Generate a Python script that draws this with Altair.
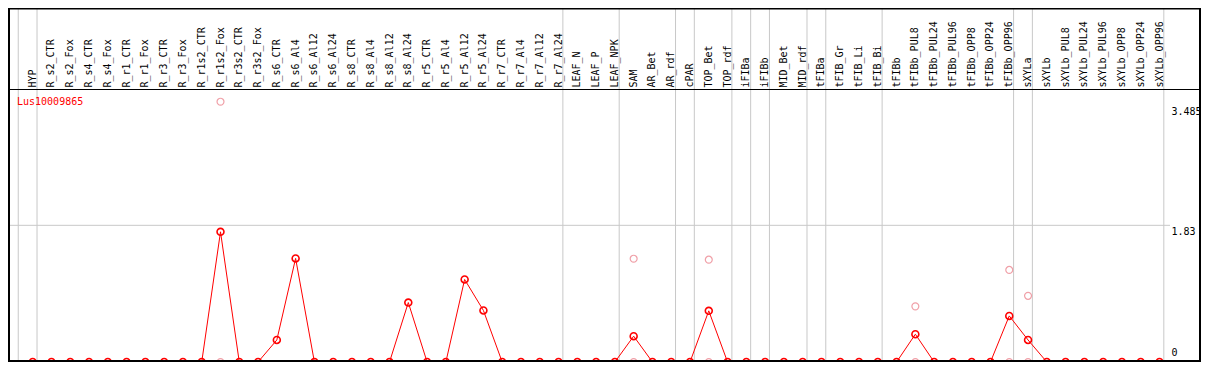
import altair as alt
import pandas as pd

# ---- data ----
categories = [
    "HYP", "R_s2_CTR", "R_s2_Fox", "R_s4_CTR", "R_s4_Fox", "R_r1_CTR", "R_r1_Fox",
    "R_r3_CTR", "R_r3_Fox", "R_r1s2_CTR", "R_r1s2_Fox", "R_r3s2_CTR", "R_r3s2_Fox",
    "R_s6_CTR", "R_s6_Al4", "R_s6_Al12", "R_s6_Al24", "R_s8_CTR", "R_s8_Al4",
    "R_s8_Al12", "R_s8_Al24", "R_r5_CTR", "R_r5_Al4", "R_r5_Al12", "R_r5_Al24",
    "R_r7_CTR", "R_r7_Al4", "R_r7_Al12", "R_r7_Al24", "LEAF_N", "LEAF_P", "LEAF_NPK",
    "SAM", "AR_Bet", "AR_rdf", "cPAR", "TOP_Bet", "TOP_rdf", "iFIBa", "iFIBb",
    "MID_Bet", "MID_rdf", "tFIBa", "tFIB_Gr", "tFIB_Li", "tFIB_Bi", "tFIBb",
    "tFIBb_PUL8", "tFIBb_PUL24", "tFIBb_PUL96", "tFIBb_OPP8", "tFIBb_OPP24",
    "tFIBb_OPP96", "sXYLa", "sXYLb", "sXYLb_PUL8", "sXYLb_PUL24", "sXYLb_PUL96",
    "sXYLb_OPP8", "sXYLb_OPP24", "sXYLb_OPP96",
]

mean_values = [
    0, 0, 0, 0, 0, 0, 0, 0, 0, 0, 1.743, 0, 0,
    0.295, 1.387, 0, 0, 0, 0, 0, 0.796, 0, 0, 1.105, 0.690,
    0, 0, 0, 0, 0, 0, 0,
    0.346, 0, 0, 0, 0.685, 0, 0, 0,
    0, 0, 0, 0, 0, 0, 0,
    0.372, 0, 0, 0, 0, 0.617, 0.295, 0, 0, 0, 0, 0, 0, 0,
]

rep_categories = ["R_r1s2_Fox", "R_r1s2_Fox", "SAM", "SAM", "TOP_Bet", "TOP_Bet",
                  "tFIBb_PUL8", "tFIBb_PUL8", "tFIBb_OPP96", "tFIBb_OPP96",
                  "sXYLa", "sXYLa"]
rep_values = [3.485, 0, 1.383, 0, 1.370, 0, 0.745, 0, 1.233, 0, 0.886, 0]

# groups are separated after these categories
separator_after = ["HYP", "R_r7_Al24", "LEAF_NPK", "AR_rdf", "cPAR", "TOP_rdf",
                   "iFIBa", "iFIBb", "MID_rdf", "tFIBa", "tFIB_Bi", "tFIBb_OPP96",
                   "sXYLa", "sXYLb_OPP96"]

tick_values = [3.485, 1.83, 0]
tick_labels = ["3.485", "1.83", "0"]
gene_name = "Lus10009865"

# ---- layout ----
W, H = 1193, 354
FONT = "DejaVu Sans Mono"
RED = "#ff0000"
PINK = "#f0a0a8"
GRID = "#c8c8c8"

idx = {c: k for k, c in enumerate(categories)}

df_main = pd.DataFrame({"cat": categories, "i": list(range(len(categories))), "v": mean_values})
df_rep = pd.DataFrame({"cat": rep_categories, "i": [idx[c] for c in rep_categories], "v": rep_values})
sep_pos = [-1 + 0.23] + [idx[c] + 0.23 for c in separator_after]
df_sep = pd.DataFrame({"b": sep_pos})

xs = alt.Scale(domain=[0, 60], range=[24.7, 1151.5], nice=False, zero=False)
ys = alt.Scale(domain=[0, 3.485], range=[354, 93.7], nice=False, zero=False)

X = lambda f: alt.X(f, scale=xs, axis=None)
Y = lambda f: alt.Y(f, scale=ys, axis=None)

one = pd.DataFrame({"v": [0]})

vgrid = alt.Chart(df_sep).mark_rule(color=GRID, strokeWidth=1).encode(
    x=X("b:Q"), y=alt.value(0), y2=alt.value(H))

hgrid = alt.Chart(pd.DataFrame({"v": [tick_values[1]]})).mark_rule(
    color=GRID, strokeWidth=1).encode(y=Y("v:Q"), x=alt.value(0), x2=alt.value(1162))

header_line = alt.Chart(one).mark_rule(
    color="black", strokeWidth=1).encode(y=alt.value(81.5), x=alt.value(0), x2=alt.value(W))

border = alt.Chart(one).mark_rect(
    fillOpacity=0, stroke="black", strokeWidth=2).encode(
    x=alt.value(1), x2=alt.value(W - 1), y=alt.value(0.5), y2=alt.value(H - 1))

labels = alt.Chart(df_main).mark_text(
    angle=270, align="left", baseline="middle", font=FONT, fontSize=10, color="black"
).encode(x=X("i:Q"), y=alt.value(79.5), text="cat:N")

line = alt.Chart(df_main).mark_line(color=RED, strokeWidth=1).encode(
    x=X("i:Q"), y=Y("v:Q"), order="i:Q")

reps = alt.Chart(df_rep).mark_point(
    shape="circle", filled=False, color=PINK, size=48, strokeWidth=1.2, opacity=1
).encode(x=X("i:Q"), y=Y("v:Q"))

pts = alt.Chart(df_main).mark_point(
    shape="circle", filled=False, color=RED, size=48, strokeWidth=1.6, opacity=1
).encode(x=X("i:Q"), y=Y("v:Q"))

name = alt.Chart(pd.DataFrame({"t": [gene_name]})).mark_text(
    align="left", baseline="middle", font=FONT, fontSize=10, color=RED
).encode(x=alt.value(9), y=alt.value(93.5), text="t:N")

tick_layers = []
for val, lab, base, dy in zip(tick_values, tick_labels, ["top", "top", "bottom"], [5, 1.5, -4]):
    tick_layers.append(
        alt.Chart(pd.DataFrame({"v": [val], "t": [lab]})).mark_text(
            align="left", baseline=base, dy=dy, font=FONT, fontSize=10, color="black"
        ).encode(x=alt.value(1163.5), y=Y("v:Q"), text="t:N")
    )

chart = alt.layer(vgrid, hgrid, header_line, labels, line, reps, pts, name, *tick_layers, border).properties(
    width=W, height=H, padding=0, autosize=alt.AutoSizeParams(type="none")
).configure_view(stroke=None).configure(background="white")

chart.save("out.html", embed_options={"renderer": "svg", "actions": False})
